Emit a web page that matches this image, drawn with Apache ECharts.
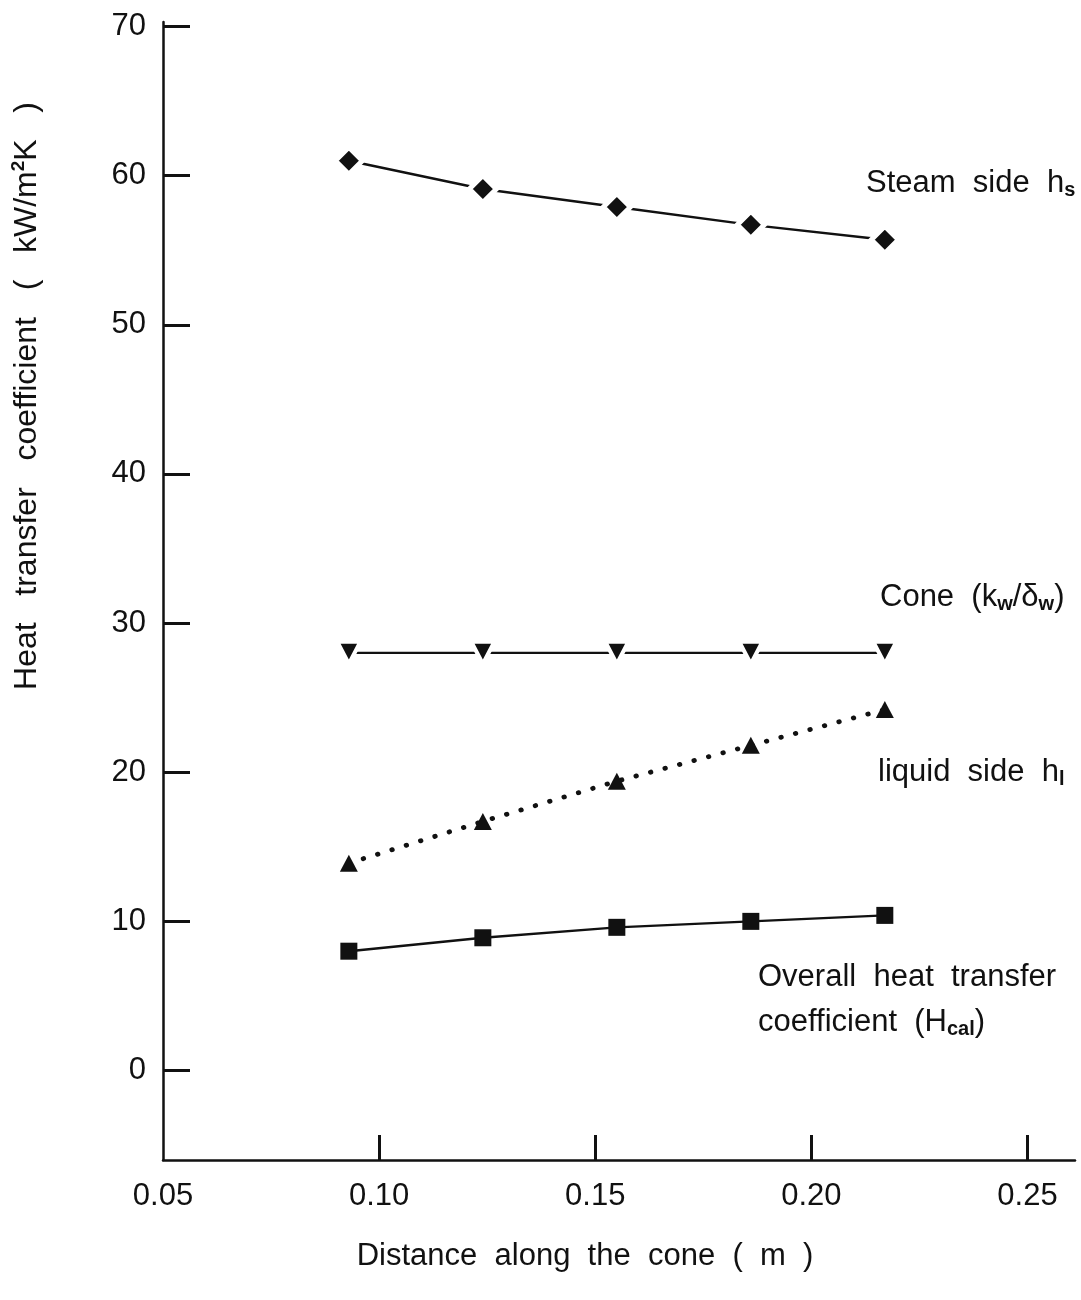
<!DOCTYPE html>
<html>
<head>
<meta charset="utf-8">
<title>Heat transfer coefficients along the cone</title>
<script src="https://cdn.jsdelivr.net/npm/echarts@6/dist/echarts.min.js"></script>
<style>
  html, body { margin: 0; padding: 0; background: #fff; }
  #chart { width: 1081px; height: 1300px; }
</style>
</head>
<body>
<div id="chart"></div>
<script>
// Distance along the cone (m)
const distance = [0.093, 0.124, 0.155, 0.186, 0.217];

// Heat transfer coefficients (kW/m2K)
const steamSide = [61.0, 59.1, 57.9, 56.7, 55.7];
const coneWall = [28.0, 28.0, 28.0, 28.0, 28.0];
const liquidSide = [13.9, 16.7, 19.4, 21.8, 24.2];
const overall = [8.0, 8.9, 9.6, 10.0, 10.4];

// Axis ticks and labels
const xTicks = [0.10, 0.15, 0.20, 0.25];
const xLabels = [0.05, 0.10, 0.15, 0.20, 0.25];
const yTicks = [0, 10, 20, 30, 40, 50, 60, 70];

const INK = '#111111';
const FONT = '"Liberation Sans", Arial, Helvetica, sans-serif';

function pairs(ys) {
  return distance.map((x, i) => [x, ys[i]]);
}

const chart = echarts.init(document.getElementById('chart'), null, { renderer: 'canvas' });

const subStyle = { fontSize: 20, fontWeight: 'bold', fontFamily: FONT, color: INK, verticalAlign: 'bottom', lineHeight: 15 };
const mainStyle = { fontSize: 31, fontFamily: FONT, color: INK, lineHeight: 34 };

function note(x, y, text) {
  return {
    type: 'text',
    x: x,
    y: y,
    z: 100,
    style: {
      text: text,
      fill: INK,
      font: '31px ' + FONT,
      verticalAlign: 'middle',
      align: 'left',
      lineHeight: 34,
      rich: { m: mainStyle, s: subStyle }
    }
  };
}

const option = {
  backgroundColor: '#fff',
  animation: false,
  grid: { left: 163, right: 6, top: 22, bottom: 140, containLabel: false },
  xAxis: {
    type: 'value',
    min: 0.05,
    max: 0.261,
    splitLine: { show: false },
    axisLine: { onZero: false, lineStyle: { color: INK, width: 2.5 } },
    axisTick: { show: true, inside: true, length: 25, customValues: xTicks, lineStyle: { color: INK, width: 3 } },
    axisLabel: {
      customValues: xLabels,
      formatter: v => v.toFixed(2),
      fontSize: 31,
      fontFamily: FONT,
      color: INK,
      margin: 21
    }
  },
  yAxis: {
    type: 'value',
    min: -6,
    max: 70.3,
    splitLine: { show: false },
    axisLine: { onZero: false, lineStyle: { color: INK, width: 2.5 } },
    axisTick: { show: true, inside: true, length: 27, customValues: yTicks, lineStyle: { color: INK, width: 3 } },
    axisLabel: {
      customValues: yTicks,
      fontSize: 31,
      fontFamily: FONT,
      color: INK,
      margin: 17
    }
  },
  series: [
    {
      name: 'Steam side',
      type: 'line',
      data: pairs(steamSide),
      symbol: 'diamond',
      symbolSize: 27,
      lineStyle: { color: INK, width: 2.4 },
      itemStyle: { color: INK, borderColor: '#fff', borderWidth: 5 },
      z: 3
    },
    {
      name: 'Cone',
      type: 'line',
      data: pairs(coneWall),
      symbol: 'triangle',
      symbolRotate: 180,
      symbolSize: [23, 22],
      lineStyle: { color: INK, width: 2.4 },
      itemStyle: { color: INK, borderColor: '#fff', borderWidth: 4 },
      z: 3
    },
    {
      name: 'Liquid side',
      type: 'line',
      data: pairs(liquidSide),
      symbol: 'triangle',
      symbolSize: [18, 17],
      lineStyle: { color: INK, width: 4.8, type: [0.5, 14.5], cap: 'round' },
      itemStyle: { color: INK },
      z: 3
    },
    {
      name: 'Overall',
      type: 'line',
      data: pairs(overall),
      symbol: 'rect',
      symbolSize: 17,
      lineStyle: { color: INK, width: 2.4 },
      itemStyle: { color: INK },
      z: 3
    }
  ],
  graphic: [
    note(866, 183, '{m|Steam  side  h}{s|s}'),
    note(880, 597, '{m|Cone  (k}{s|w}{m|/δ}{s|w}{m|)}'),
    note(878, 772, '{m|liquid  side  h}{s|l}'),
    note(758, 977, '{m|Overall  heat  transfer}'),
    note(758, 1022, '{m|coefficient  (H}{s|cal}{m|)}'),
    {
      type: 'text',
      x: 585,
      y: 1256,
      style: {
        text: 'Distance  along  the  cone  (  m  )',
        fill: INK,
        font: '31px ' + FONT,
        align: 'center',
        verticalAlign: 'middle'
      }
    },
    {
      type: 'text',
      x: 27,
      y: 396,
      rotation: Math.PI / 2,
      style: {
        text: '{m|Heat   transfer   coefficient   (   kW/m}{p|2}{m|K   )}',
        fill: INK,
        font: '32px ' + FONT,
        align: 'center',
        verticalAlign: 'middle',
        rich: {
          m: { fontSize: 32, fontFamily: FONT, color: INK, lineHeight: 36 },
          p: { fontSize: 19, fontWeight: 'bold', fontFamily: FONT, color: INK, verticalAlign: 'top', lineHeight: 20 }
        }
      }
    }
  ]
};

chart.setOption(option);
</script>
</body>
</html>
